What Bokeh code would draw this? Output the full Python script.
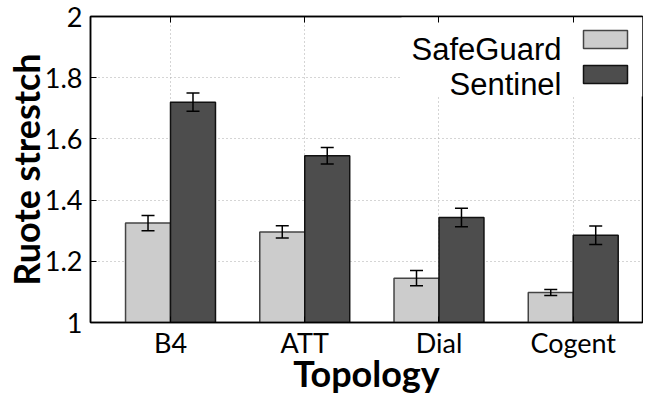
from bokeh.plotting import figure
from bokeh.models import (ColumnDataSource, Whisker, TeeHead, LinearAxis, FixedTicker,
                          Range1d, Label, BoxAnnotation, CustomJSTickFormatter)
from bokeh.embed import file_html
from bokeh.resources import INLINE

# ---- data ----
categories = ["B4", "ATT", "Dial", "Cogent"]
safeguard = [1.325, 1.296, 1.145, 1.098]
safeguard_err = [0.025, 0.020, 0.025, 0.010]
sentinel = [1.720, 1.545, 1.343, 1.285]
sentinel_err = [0.030, 0.027, 0.030, 0.030]
series_names = ["SafeGuard", "Sentinel"]
y_ticks = [1, 1.2, 1.4, 1.6, 1.8, 2]
x_title = "Topology"
y_title = "Ruote strestch"

# ---- style / layout ----
BW = 0.335
SG_FILL, SG_LINE = "#cccccc", "#444444"
SE_FILL, SE_LINE = "#4d4d4d", "#111111"
TICK_FONT = "Lato"
TITLE_FONT = "Lato"
LEG_FONT = "Liberation Sans"
W, H = 643, 397
X_LO, X_HI = -0.596, 3.516
Y_LO, Y_HI = 1, 2
EST_FW, EST_FH = 552, 306                  # expected frame size in px
PX_X = EST_FW / (X_HI - X_LO)
PX_Y = EST_FH / (Y_HI - Y_LO)

def fy(px_from_top):                       # px below frame top -> data y
    return Y_HI - px_from_top / PX_Y

def fxr(px_from_right):                    # px left of frame right -> data x
    return X_HI - px_from_right / PX_X

idx = list(range(len(categories)))
src_sg = ColumnDataSource(dict(
    x=[i - BW / 2 for i in idx], top=safeguard,
    upper=[v + e for v, e in zip(safeguard, safeguard_err)],
    lower=[v - e for v, e in zip(safeguard, safeguard_err)]))
src_se = ColumnDataSource(dict(
    x=[i + BW / 2 for i in idx], top=sentinel,
    upper=[v + e for v, e in zip(sentinel, sentinel_err)],
    lower=[v - e for v, e in zip(sentinel, sentinel_err)]))

p = figure(width=W, height=H, x_range=Range1d(X_LO, X_HI), y_range=Range1d(Y_LO, Y_HI),
           output_backend="svg", toolbar_location=None,
           min_border_left=10, min_border_right=1, min_border_top=16, min_border_bottom=10)

p.outline_line_color = "black"
p.outline_line_width = 1.5

# grid
p.xgrid.ticker = FixedTicker(ticks=idx)
p.ygrid.ticker = FixedTicker(ticks=y_ticks[1:-1])
for g in (p.xgrid, p.ygrid):
    g.grid_line_color = "#aaaaaa"
    g.grid_line_dash = "1 3"
    g.grid_line_width = 1

# bars
p.vbar(x="x", top="top", bottom=1, width=BW, source=src_sg,
       fill_color=SG_FILL, line_color=SG_LINE, line_width=1.5)
p.vbar(x="x", top="top", bottom=1, width=BW, source=src_se,
       fill_color=SE_FILL, line_color=SE_LINE, line_width=1.5)

for src in (src_sg, src_se):
    w = Whisker(source=src, base="x", upper="upper", lower="lower",
                line_color="black", line_width=1.5, level="overlay",
                upper_head=TeeHead(size=13, line_color="black", line_width=1.5),
                lower_head=TeeHead(size=13, line_color="black", line_width=1.5))
    p.add_layout(w)

# axes
xa = p.xaxis[0]
xa.ticker = FixedTicker(ticks=idx)
xa.major_label_overrides = {i: c for i, c in zip(idx, categories)}
xa.axis_label = x_title
ya = p.yaxis[0]
ya.ticker = FixedTicker(ticks=y_ticks)
ya.formatter = CustomJSTickFormatter(code="return String(Math.round(tick*10)/10);")
ya.axis_label = y_title
for ax in (xa, ya):
    ax.axis_line_color = "black"
    ax.axis_line_width = 1.5
    ax.major_tick_in = 6
    ax.major_tick_out = 0
    ax.minor_tick_line_color = None
    ax.major_tick_line_color = "black"
    ax.major_label_text_font = TICK_FONT
    ax.major_label_text_font_size = "27px"
    ax.major_label_text_color = "black"
    ax.axis_label_text_font = TITLE_FONT
    ax.axis_label_text_font_style = "bold"
    ax.axis_label_text_font_size = "36px"
    ax.axis_label_text_color = "black"
xa.major_label_standoff = 3
xa.axis_label_standoff = -11
ya.major_label_standoff = 8
ya.axis_label_standoff = -6

top = LinearAxis(ticker=FixedTicker(ticks=idx),
                 formatter=CustomJSTickFormatter(code="return '';"),
                 major_label_text_font_size="8px",
                 major_tick_in=6, major_tick_out=0, minor_tick_line_color=None,
                 axis_line_color="black", axis_line_width=1.5, major_label_standoff=0)
p.add_layout(top, "above")

# legend (label left of swatch), white box hides grid behind it
p.quad(left=fxr(241), right=X_HI, bottom=fy(80), top=Y_HI, fill_color="white", line_color=None)
sw_l, sw_r = fxr(59), fxr(15)
txt_r = fxr(81)
rows = [(14, 32, 33, SG_FILL, SG_LINE), (49, 67, 68, SE_FILL, SE_LINE)]
for name, (t, b, base, fc, lc) in zip(series_names, rows):
    p.add_layout(BoxAnnotation(left=sw_l, right=sw_r, top=fy(t), bottom=fy(b), fill_color=fc,
                               fill_alpha=1, line_color=lc, line_width=1.5, line_alpha=1))
    p.add_layout(Label(x=txt_r, y=fy(base), text=name, text_align="right",
                       text_baseline="alphabetic", text_font=LEG_FONT,
                       text_font_size="31px", text_color="black"))

open("out.html", "w").write(file_html(p, INLINE))
